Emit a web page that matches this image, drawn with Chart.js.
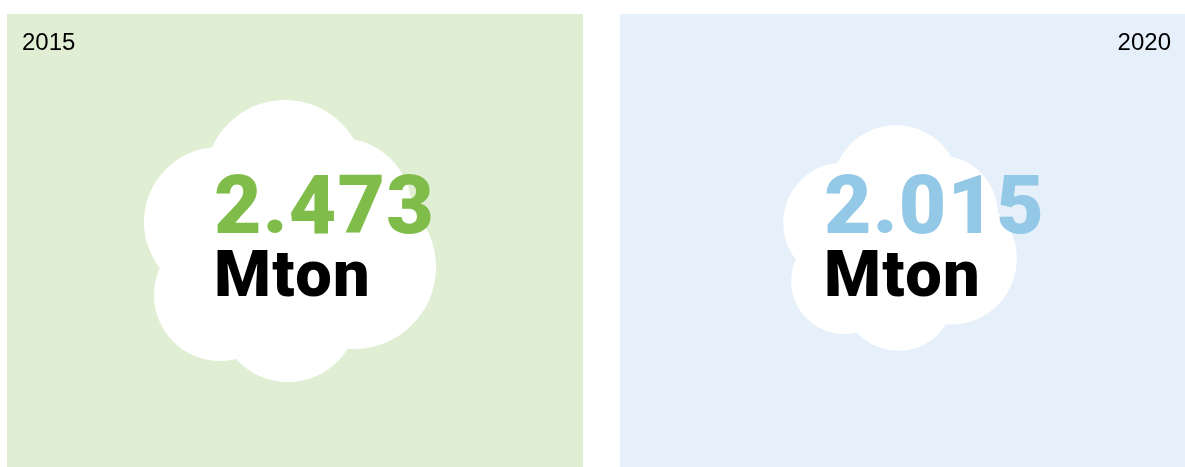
<!DOCTYPE html>
<html>
<head>
<meta charset="utf-8">
<title>Mton 2015 - 2020</title>
<script src="https://cdn.jsdelivr.net/npm/chart.js@4"></script>
<style>
  html, body { margin: 0; padding: 0; background: #ffffff; overflow: hidden; }
  canvas { display: block; }
</style>
</head>
<body>
<canvas id="clouds" width="1185" height="467"></canvas>
<script>
'use strict';

let years = ['2015', '2020'];
let values = [2473, 2015];
let unit = 'Mton';

// Layout of the picture, in page pixels
let panels = [
  { left: 7, right: 583, top: 14, bottom: 467, fill: '#e0eed3', ink: '#7fbc4a' },
  { left: 620, right: 1185, top: 14, bottom: 467, fill: '#e5f0fa', ink: '#93c8e6' }
];
let cloudCenters = [{ x: 290, y: 241, scale: 1 }, { x: 900, y: 238, scale: 0.8 }];
let textLeft = [214, 824];
// The lobes of one cloud, relative to its centre
let lobes = [
  { x: -5, y: -61, r: 80 },
  { x: -71, y: -19, r: 75 },
  { x: 50, y: -31, r: 72 },
  { x: 64, y: 26, r: 82 },
  { x: -70, y: 54, r: 66 },
  { x: -2, y: 71, r: 70 }
];

// Turns one panel's cloud into bubble points
function cloudPoints(i) {
  let c = cloudCenters[i];
  return lobes.map(function (l) {
    return { x: c.x + l.x * c.scale, y: c.y + l.y * c.scale, r: l.r * c.scale };
  });
}

// Panel backgrounds go under the bubbles
const panelPlugin = {
  id: 'panels',
  beforeDatasetsDraw(chart) {
    let x = chart.scales.x;
    let y = chart.scales.y;
    let c = chart.ctx;
    panels.forEach(function (p) {
      let left = x.getPixelForValue(p.left);
      let top = y.getPixelForValue(p.top);
      c.fillStyle = p.fill;
      c.fillRect(left, top, x.getPixelForValue(p.right) - left, y.getPixelForValue(p.bottom) - top);
    });
  }
};

// Years, values and the unit go on top of the bubbles
const labelPlugin = {
  id: 'labels',
  afterDatasetsDraw(chart) {
    let c = chart.ctx;
    c.save();
    c.textBaseline = 'alphabetic';
    c.fillStyle = '#000000';
    c.font = '24px "Liberation Sans"';
    c.textAlign = 'left';
    c.fillText(years[0], 22, 50);
    c.textAlign = 'right';
    c.fillText(years[1], 1171, 50);
    c.textAlign = 'left';
    values.forEach(function (v, i) {
      c.font = '900 82px Roboto';
      c.letterSpacing = '1.2px';
      c.fillStyle = panels[i].ink;
      c.fillText((v / 1000).toFixed(3), textLeft[i], 233);
      c.font = '900 65px Roboto';
      c.letterSpacing = '1.4px';
      c.fillStyle = '#000000';
      c.fillText(unit, textLeft[i], 296);
    });
    c.restore();
  }
};

new Chart(document.getElementById('clouds'), {
  type: 'bubble',
  data: {
    datasets: years.map(function (year, i) {
      return {
        label: year,
        data: cloudPoints(i),
        backgroundColor: '#ffffff',
        borderWidth: 0,
        hoverRadius: 0
      };
    })
  },
  options: {
    responsive: false,
    animation: false,
    events: [],
    layout: { padding: 0, autoPadding: false },
    plugins: { legend: { display: false }, tooltip: { enabled: false } },
    scales: {
      x: { type: 'linear', min: 0, max: 1185, display: false },
      y: { type: 'linear', min: 0, max: 467, reverse: true, display: false }
    }
  },
  plugins: [panelPlugin, labelPlugin]
});
</script>
</body>
</html>
